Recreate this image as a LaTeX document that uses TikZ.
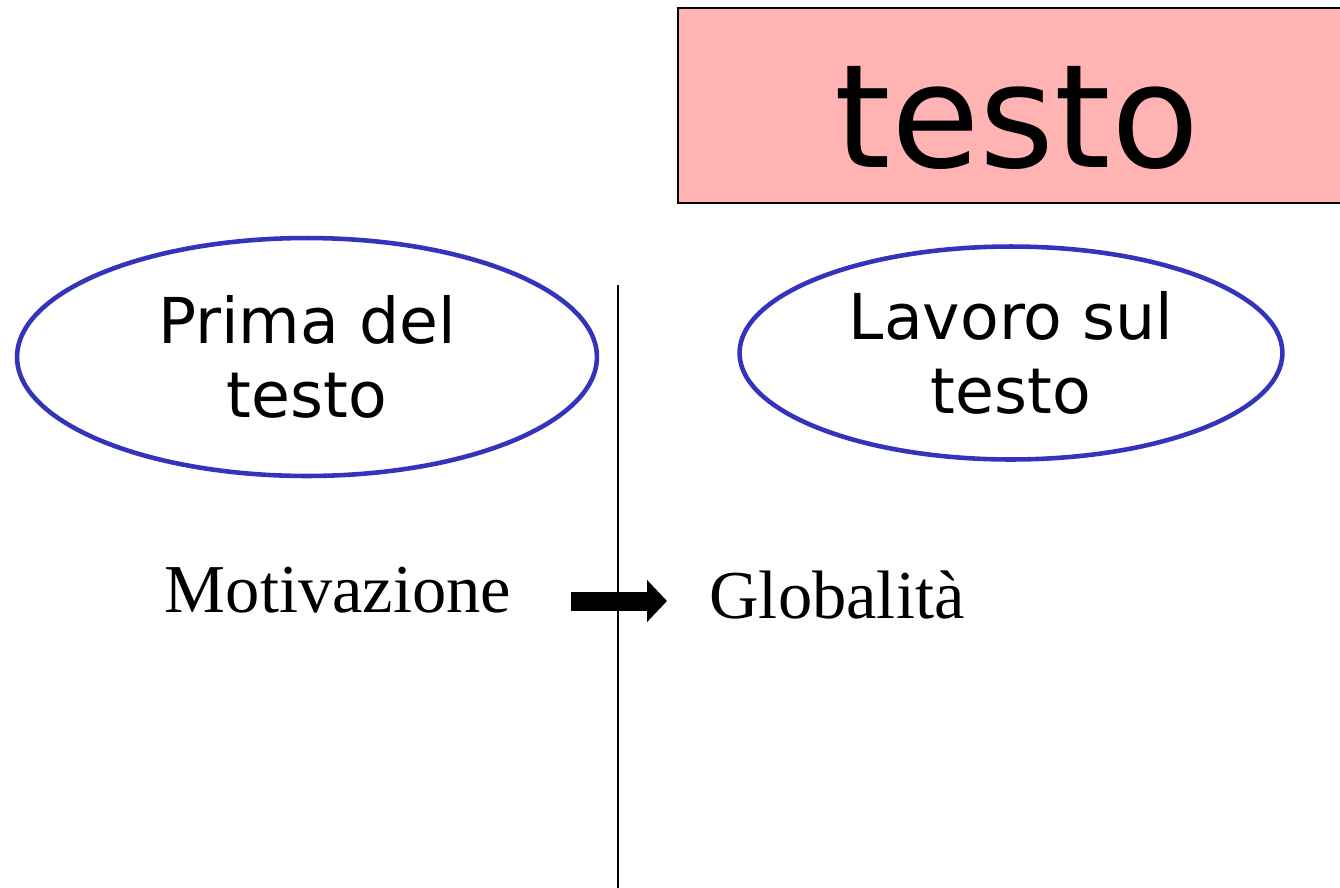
\documentclass[tikz,border=0pt]{standalone}
\usepackage{fontspec}
\setmainfont{Liberation Serif}
\newfontfamily\sansfont{DejaVu Sans}
\usetikzlibrary{shapes.geometric,arrows.meta}
\definecolor{rose}{RGB}{255,179,179}
\definecolor{bleu}{RGB}{51,51,187}

\begin{document}
\begin{tikzpicture}[x=0.02cm,y=-0.02cm]
      \tikzstyle{titre}=[draw=black,line width=1.1pt,fill=rose,minimum width=13.56cm,minimum height=3.9cm,inner sep=0pt,font=\sansfont\fontsize{82}{90}\selectfont,text height=70pt,text depth=0pt]
      \tikzstyle{ovale}=[ellipse,draw=bleu,line width=2.6pt,inner sep=0pt,align=center,font=\sansfont\fontsize{36}{42.5}\selectfont]
      \tikzstyle{mot}=[anchor=base,inner sep=0pt,font=\fontsize{39}{45}\selectfont]
      \tikzstyle{fleche}=[line width=0.38cm,-{Triangle[length=0.4cm,width=0.82cm]}]
      \tikzstyle{trait}=[line width=1.1pt]
      \path[use as bounding box,clip] (0,0) rectangle (1340,887);
      \node[titre] (titolo) at (1017,105.5) {testo};
      \node[ovale,minimum width=11.6cm,minimum height=4.76cm] (prima) at (307,357) {Prima del\\testo};
      \node[ovale,minimum width=10.86cm,minimum height=4.26cm] (lavoro) at (1011,353) {Lavoro sul\\testo};
      \node[mot] (moti) at (338,612) {Motivazione};
      \node[mot] (glob) at (837,618) {Globalità};
      \coordinate (haut) at (618,285);
      \coordinate (bas) at (618,890);
      \coordinate (depart) at (571,601);
      \coordinate (arrivee) at (667,601);
      \draw[trait] (haut)--(bas);
      \draw[fleche] (depart)--(arrivee);
    \end{tikzpicture}
\end{document}
